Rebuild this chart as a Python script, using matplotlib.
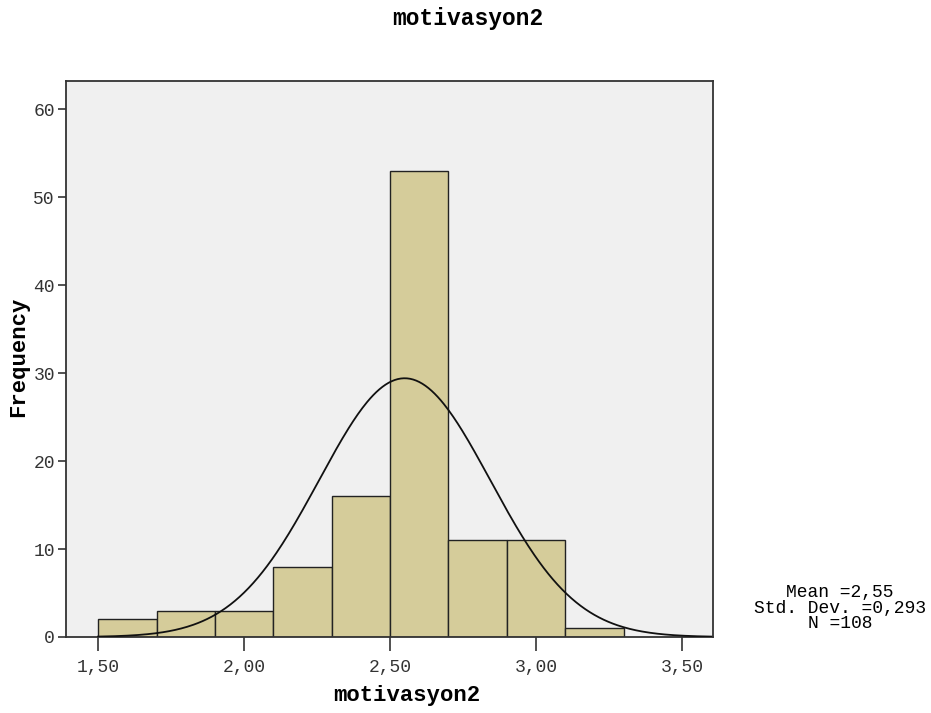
import matplotlib; matplotlib.use("Agg")
import matplotlib.pyplot as plt
import numpy as np

# histogram data (bin width 0,20)
bin_edges = [1.5, 1.7, 1.9, 2.1, 2.3, 2.5, 2.7, 2.9, 3.1, 3.3]
counts = [2, 3, 3, 8, 16, 53, 11, 11, 1]
mean, sd, n = 2.55, 0.293, 108
xticks = [1.5, 2.0, 2.5, 3.0, 3.5]
xticklabels = ["1,50", "2,00", "2,50", "3,00", "3,50"]
yticks = [0, 10, 20, 30, 40, 50, 60]

MONO = "Liberation Mono"
BAR = "#d5cc9a"; BGAX = "#f0f0f0"

fig = plt.figure(figsize=(9.31, 7.13), dpi=100)
ax = fig.add_axes([0.0709, 0.1066, 0.6949, 0.7798])
ax.set_facecolor(BGAX)

widths = np.diff(bin_edges)
ax.bar(bin_edges[:-1], counts, width=widths, align="edge", color=BAR, edgecolor="#222222", lw=1.0, zorder=2)

# fitted normal curve
xs = np.linspace(1.5, 3.6, 400)
bw = widths[0]
ys = n * bw / (sd * np.sqrt(2 * np.pi)) * np.exp(-0.5 * ((xs - mean) / sd) ** 2)
ax.plot(xs, ys, color="#111111", lw=1.3, zorder=3)

ax.set_xlim(1.39, 3.606)
ax.set_ylim(0, 63.2)
ax.set_xticks(xticks)
ax.set_xticklabels(xticklabels)
ax.set_yticks(yticks)
for s in ax.spines.values():
    s.set_color("#333333"); s.set_linewidth(1.3)
ax.tick_params(axis="x", direction="out", length=10, width=1.2, colors="#333333", labelsize=13, pad=6)
ax.tick_params(axis="y", direction="out", length=6, width=1.2, colors="#333333", labelsize=13, pad=2)
for lab in ax.get_xticklabels() + ax.get_yticklabels():
    lab.set_family(MONO)

fig.text(0.437, 0.024, "motivasyon2", ha="center", va="center", family=MONO, fontsize=16, fontweight="bold")
fig.text(0.020, 0.5, "Frequency", ha="center", va="center", rotation=90, family=MONO, fontsize=16, fontweight="bold")
fig.text(0.502, 0.974, "motivasyon2", ha="center", va="center", family=MONO, fontsize=16.5, fontweight="bold")
fig.text(0.902, 0.147, "Mean =2,55\nStd. Dev. =0,293\nN =108", ha="center", va="center",
         family=MONO, fontsize=13, linespacing=0.9)

plt.savefig("out.png", dpi=100)
